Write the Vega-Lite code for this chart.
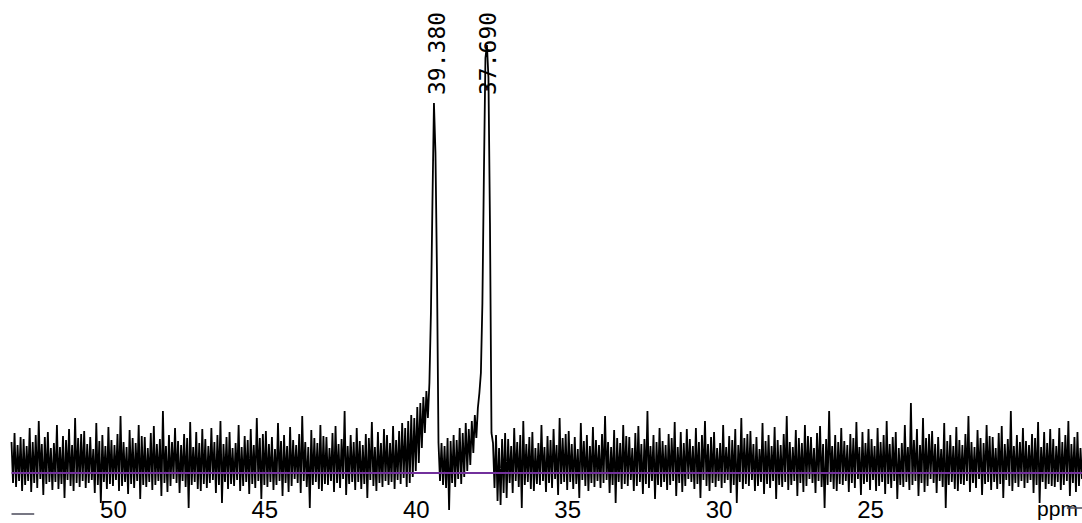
{
"$schema": "https://vega.github.io/schema/vega-lite/v6.json",
"width": 1082, "height": 523,
"autosize": {"type": "none"},
"padding": 0,
"background": "white",
"config": {"view": {"stroke": null}},
"layer": [
{"data": {"values": [
{"ppm":53.35,"v":31},{"ppm":53.30,"v":-10},{"ppm":53.25,"v":40},{"ppm":53.20,"v":-14},{"ppm":53.15,"v":28},{"ppm":53.10,"v":-8},{"ppm":53.05,"v":36},{"ppm":53.00,"v":-18},
{"ppm":52.95,"v":34},{"ppm":52.90,"v":-12},{"ppm":52.85,"v":27},{"ppm":52.80,"v":-8},{"ppm":52.75,"v":45},{"ppm":52.70,"v":-19},{"ppm":52.65,"v":31},{"ppm":52.60,"v":-10},{"ppm":52.55,"v":38},{"ppm":52.50,"v":-15},{"ppm":52.45,"v":52},{"ppm":52.40,"v":-6},{"ppm":52.35,"v":29},{"ppm":52.30,"v":-22},{"ppm":52.25,"v":36},{"ppm":52.20,"v":-11},{"ppm":52.15,"v":41},{"ppm":52.10,"v":-9},{"ppm":52.05,"v":25},{"ppm":52.00,"v":-17},
{"ppm":51.95,"v":30},{"ppm":51.90,"v":-9},{"ppm":51.85,"v":48},{"ppm":51.80,"v":-16},{"ppm":51.75,"v":26},{"ppm":51.70,"v":-11},{"ppm":51.65,"v":37},{"ppm":51.60,"v":-25},{"ppm":51.55,"v":33},{"ppm":51.50,"v":-7},{"ppm":51.45,"v":44},{"ppm":51.40,"v":-13},{"ppm":51.35,"v":28},{"ppm":51.30,"v":-18},{"ppm":51.25,"v":55},{"ppm":51.20,"v":-10},{"ppm":51.15,"v":35},{"ppm":51.10,"v":-14},{"ppm":51.05,"v":39},{"ppm":51.00,"v":-8},
{"ppm":50.95,"v":42},{"ppm":50.90,"v":-15},{"ppm":50.85,"v":29},{"ppm":50.80,"v":-10},{"ppm":50.75,"v":36},{"ppm":50.70,"v":-7},{"ppm":50.65,"v":24},{"ppm":50.60,"v":-20},{"ppm":50.55,"v":50},{"ppm":50.50,"v":-12},{"ppm":50.45,"v":32},{"ppm":50.40,"v":-30},{"ppm":50.35,"v":38},{"ppm":50.30,"v":-9},{"ppm":50.25,"v":27},{"ppm":50.20,"v":-16},{"ppm":50.15,"v":46},{"ppm":50.10,"v":-11},{"ppm":50.05,"v":33},{"ppm":50.00,"v":-13},
{"ppm":49.95,"v":28},{"ppm":49.90,"v":-7},{"ppm":49.85,"v":39},{"ppm":49.80,"v":-18},{"ppm":49.75,"v":57},{"ppm":49.70,"v":-13},{"ppm":49.65,"v":31},{"ppm":49.60,"v":-9},{"ppm":49.55,"v":26},{"ppm":49.50,"v":-21},{"ppm":49.45,"v":43},{"ppm":49.40,"v":-11},{"ppm":49.35,"v":35},{"ppm":49.30,"v":-15},{"ppm":49.25,"v":30},{"ppm":49.20,"v":-8},{"ppm":49.15,"v":48},{"ppm":49.10,"v":-26},{"ppm":49.05,"v":37},{"ppm":49.00,"v":-12},
{"ppm":48.95,"v":36},{"ppm":48.90,"v":-14},{"ppm":48.85,"v":25},{"ppm":48.80,"v":-9},{"ppm":48.75,"v":40},{"ppm":48.70,"v":-17},{"ppm":48.65,"v":47},{"ppm":48.60,"v":-12},{"ppm":48.55,"v":29},{"ppm":48.50,"v":-8},{"ppm":48.45,"v":34},{"ppm":48.40,"v":-23},{"ppm":48.35,"v":62},{"ppm":48.30,"v":-10},{"ppm":48.25,"v":27},{"ppm":48.20,"v":-19},{"ppm":48.15,"v":38},{"ppm":48.10,"v":-13},{"ppm":48.05,"v":31},{"ppm":48.00,"v":-6},
{"ppm":47.95,"v":45},{"ppm":47.90,"v":-10},{"ppm":47.85,"v":32},{"ppm":47.80,"v":-20},{"ppm":47.75,"v":28},{"ppm":47.70,"v":-8},{"ppm":47.65,"v":39},{"ppm":47.60,"v":-14},{"ppm":47.55,"v":35},{"ppm":47.50,"v":-35},{"ppm":47.45,"v":51},{"ppm":47.40,"v":-12},{"ppm":47.35,"v":26},{"ppm":47.30,"v":-9},{"ppm":47.25,"v":41},{"ppm":47.20,"v":-16},{"ppm":47.15,"v":30},{"ppm":47.10,"v":-18},{"ppm":47.05,"v":44},{"ppm":47.00,"v":-11},
{"ppm":46.95,"v":34},{"ppm":46.90,"v":-15},{"ppm":46.85,"v":27},{"ppm":46.80,"v":-10},{"ppm":46.75,"v":45},{"ppm":46.70,"v":-7},{"ppm":46.65,"v":31},{"ppm":46.60,"v":-20},{"ppm":46.55,"v":38},{"ppm":46.50,"v":-12},{"ppm":46.45,"v":52},{"ppm":46.40,"v":-30},{"ppm":46.35,"v":29},{"ppm":46.30,"v":-9},{"ppm":46.25,"v":36},{"ppm":46.20,"v":-16},{"ppm":46.15,"v":41},{"ppm":46.10,"v":-11},{"ppm":46.05,"v":25},{"ppm":46.00,"v":-13},
{"ppm":45.95,"v":30},{"ppm":45.90,"v":-7},{"ppm":45.85,"v":48},{"ppm":45.80,"v":-18},{"ppm":45.75,"v":26},{"ppm":45.70,"v":-13},{"ppm":45.65,"v":37},{"ppm":45.60,"v":-9},{"ppm":45.55,"v":33},{"ppm":45.50,"v":-21},{"ppm":45.45,"v":44},{"ppm":45.40,"v":-11},{"ppm":45.35,"v":28},{"ppm":45.30,"v":-15},{"ppm":45.25,"v":55},{"ppm":45.20,"v":-8},{"ppm":45.15,"v":35},{"ppm":45.10,"v":-26},{"ppm":45.05,"v":39},{"ppm":45.00,"v":-12},
{"ppm":44.95,"v":42},{"ppm":44.90,"v":-14},{"ppm":44.85,"v":29},{"ppm":44.80,"v":-9},{"ppm":44.75,"v":36},{"ppm":44.70,"v":-17},{"ppm":44.65,"v":24},{"ppm":44.60,"v":-12},{"ppm":44.55,"v":50},{"ppm":44.50,"v":-8},{"ppm":44.45,"v":32},{"ppm":44.40,"v":-23},{"ppm":44.35,"v":38},{"ppm":44.30,"v":-10},{"ppm":44.25,"v":27},{"ppm":44.20,"v":-19},{"ppm":44.15,"v":46},{"ppm":44.10,"v":-13},{"ppm":44.05,"v":33},{"ppm":44.00,"v":-6},
{"ppm":43.95,"v":28},{"ppm":43.90,"v":-10},{"ppm":43.85,"v":39},{"ppm":43.80,"v":-20},{"ppm":43.75,"v":57},{"ppm":43.70,"v":-8},{"ppm":43.65,"v":31},{"ppm":43.60,"v":-14},{"ppm":43.55,"v":26},{"ppm":43.50,"v":-35},{"ppm":43.45,"v":43},{"ppm":43.40,"v":-12},{"ppm":43.35,"v":35},{"ppm":43.30,"v":-9},{"ppm":43.25,"v":30},{"ppm":43.20,"v":-16},{"ppm":43.15,"v":48},{"ppm":43.10,"v":-18},{"ppm":43.05,"v":37},{"ppm":43.00,"v":-11},
{"ppm":42.95,"v":36},{"ppm":42.90,"v":-12},{"ppm":42.85,"v":25},{"ppm":42.80,"v":-8},{"ppm":42.75,"v":40},{"ppm":42.70,"v":-19},{"ppm":42.65,"v":47},{"ppm":42.60,"v":-10},{"ppm":42.55,"v":29},{"ppm":42.50,"v":-15},{"ppm":42.45,"v":34},{"ppm":42.40,"v":-6},{"ppm":42.35,"v":62},{"ppm":42.30,"v":-22},{"ppm":42.25,"v":27},{"ppm":42.20,"v":-11},{"ppm":42.15,"v":38},{"ppm":42.10,"v":-9},{"ppm":42.05,"v":31},{"ppm":42.00,"v":-17},
{"ppm":41.95,"v":45},{"ppm":41.90,"v":-9},{"ppm":41.85,"v":32},{"ppm":41.80,"v":-16},{"ppm":41.75,"v":28},{"ppm":41.70,"v":-11},{"ppm":41.65,"v":39},{"ppm":41.60,"v":-25},{"ppm":41.55,"v":35},{"ppm":41.50,"v":-7},{"ppm":41.45,"v":51},{"ppm":41.40,"v":-13},{"ppm":41.35,"v":26},{"ppm":41.30,"v":-18},{"ppm":41.25,"v":41},{"ppm":41.20,"v":-10},{"ppm":41.15,"v":30},{"ppm":41.10,"v":-14},{"ppm":41.05,"v":44},{"ppm":41.00,"v":-8},
{"ppm":40.95,"v":38},{"ppm":40.90,"v":-12},{"ppm":40.85,"v":30},{"ppm":40.80,"v":-9},{"ppm":40.75,"v":47},{"ppm":40.70,"v":-16},{"ppm":40.65,"v":33},{"ppm":40.60,"v":-7},{"ppm":40.55,"v":42},{"ppm":40.50,"v":-11},{"ppm":40.45,"v":50},{"ppm":40.40,"v":-5},
{"ppm":40.35,"v":45},{"ppm":40.30,"v":-14},{"ppm":40.25,"v":52},{"ppm":40.20,"v":-10},{"ppm":40.15,"v":58},{"ppm":40.10,"v":-4},{"ppm":40.05,"v":55},{"ppm":40.00,"v":2},{"ppm":39.95,"v":66},{"ppm":39.90,"v":10},{"ppm":39.85,"v":70},{"ppm":39.80,"v":25},{"ppm":39.75,"v":76},{"ppm":39.70,"v":40},{"ppm":39.65,"v":82},{"ppm":39.60,"v":55},
{"ppm":39.55,"v":90},{"ppm":39.50,"v":160},{"ppm":39.45,"v":270},{"ppm":39.40,"v":370},{"ppm":39.35,"v":320},{"ppm":39.30,"v":200},{"ppm":39.25,"v":30},
{"ppm":39.20,"v":-8},{"ppm":39.15,"v":30},{"ppm":39.10,"v":-12},{"ppm":39.05,"v":27},{"ppm":39.00,"v":-15},{"ppm":38.95,"v":35},{"ppm":38.90,"v":-37},{"ppm":38.85,"v":32},{"ppm":38.80,"v":-10},{"ppm":38.75,"v":38},{"ppm":38.70,"v":-14},{"ppm":38.65,"v":33},{"ppm":38.60,"v":-6},{"ppm":38.55,"v":45},{"ppm":38.50,"v":-11},{"ppm":38.45,"v":40},{"ppm":38.40,"v":-4},{"ppm":38.35,"v":50},{"ppm":38.30,"v":2},{"ppm":38.25,"v":44},{"ppm":38.20,"v":8},{"ppm":38.15,"v":52},{"ppm":38.10,"v":20},{"ppm":38.05,"v":58},{"ppm":38.00,"v":35},{"ppm":37.95,"v":65},
{"ppm":37.90,"v":80},{"ppm":37.85,"v":100},{"ppm":37.80,"v":170},{"ppm":37.75,"v":300},{"ppm":37.70,"v":415},{"ppm":37.65,"v":428},{"ppm":37.60,"v":395},{"ppm":37.55,"v":250},{"ppm":37.50,"v":40},
{"ppm":37.45,"v":30},{"ppm":37.40,"v":-15},{"ppm":37.35,"v":38},{"ppm":37.30,"v":-28},{"ppm":37.25,"v":25},{"ppm":37.20,"v":-32},{"ppm":37.15,"v":34},{"ppm":37.10,"v":-20},{"ppm":37.05,"v":40},{"ppm":37.00,"v":-25},
{"ppm":36.95,"v":34},{"ppm":36.90,"v":-10},{"ppm":36.85,"v":27},{"ppm":36.80,"v":-20},{"ppm":36.75,"v":45},{"ppm":36.70,"v":-8},{"ppm":36.65,"v":31},{"ppm":36.60,"v":-14},{"ppm":36.55,"v":38},{"ppm":36.50,"v":-35},{"ppm":36.45,"v":52},{"ppm":36.40,"v":-12},{"ppm":36.35,"v":29},{"ppm":36.30,"v":-9},{"ppm":36.25,"v":36},{"ppm":36.20,"v":-16},{"ppm":36.15,"v":41},{"ppm":36.10,"v":-18},{"ppm":36.05,"v":25},{"ppm":36.00,"v":-11},
{"ppm":35.95,"v":30},{"ppm":35.90,"v":-12},{"ppm":35.85,"v":48},{"ppm":35.80,"v":-8},{"ppm":35.75,"v":26},{"ppm":35.70,"v":-19},{"ppm":35.65,"v":37},{"ppm":35.60,"v":-10},{"ppm":35.55,"v":33},{"ppm":35.50,"v":-15},{"ppm":35.45,"v":44},{"ppm":35.40,"v":-6},{"ppm":35.35,"v":28},{"ppm":35.30,"v":-22},{"ppm":35.25,"v":55},{"ppm":35.20,"v":-11},{"ppm":35.15,"v":35},{"ppm":35.10,"v":-9},{"ppm":35.05,"v":39},{"ppm":35.00,"v":-17},
{"ppm":34.95,"v":42},{"ppm":34.90,"v":-9},{"ppm":34.85,"v":29},{"ppm":34.80,"v":-16},{"ppm":34.75,"v":36},{"ppm":34.70,"v":-11},{"ppm":34.65,"v":24},{"ppm":34.60,"v":-25},{"ppm":34.55,"v":50},{"ppm":34.50,"v":-7},{"ppm":34.45,"v":32},{"ppm":34.40,"v":-13},{"ppm":34.35,"v":38},{"ppm":34.30,"v":-18},{"ppm":34.25,"v":27},{"ppm":34.20,"v":-10},{"ppm":34.15,"v":46},{"ppm":34.10,"v":-14},{"ppm":34.05,"v":33},{"ppm":34.00,"v":-8},
{"ppm":33.95,"v":28},{"ppm":33.90,"v":-15},{"ppm":33.85,"v":39},{"ppm":33.80,"v":-10},{"ppm":33.75,"v":57},{"ppm":33.70,"v":-7},{"ppm":33.65,"v":31},{"ppm":33.60,"v":-20},{"ppm":33.55,"v":26},{"ppm":33.50,"v":-12},{"ppm":33.45,"v":43},{"ppm":33.40,"v":-30},{"ppm":33.35,"v":35},{"ppm":33.30,"v":-9},{"ppm":33.25,"v":30},{"ppm":33.20,"v":-16},{"ppm":33.15,"v":48},{"ppm":33.10,"v":-11},{"ppm":33.05,"v":37},{"ppm":33.00,"v":-13},
{"ppm":32.95,"v":36},{"ppm":32.90,"v":-7},{"ppm":32.85,"v":25},{"ppm":32.80,"v":-18},{"ppm":32.75,"v":40},{"ppm":32.70,"v":-13},{"ppm":32.65,"v":47},{"ppm":32.60,"v":-9},{"ppm":32.55,"v":29},{"ppm":32.50,"v":-21},{"ppm":32.45,"v":34},{"ppm":32.40,"v":-11},{"ppm":32.35,"v":62},{"ppm":32.30,"v":-15},{"ppm":32.25,"v":27},{"ppm":32.20,"v":-8},{"ppm":32.15,"v":38},{"ppm":32.10,"v":-26},{"ppm":32.05,"v":31},{"ppm":32.00,"v":-12},
{"ppm":31.95,"v":45},{"ppm":31.90,"v":-14},{"ppm":31.85,"v":32},{"ppm":31.80,"v":-9},{"ppm":31.75,"v":28},{"ppm":31.70,"v":-17},{"ppm":31.65,"v":39},{"ppm":31.60,"v":-12},{"ppm":31.55,"v":35},{"ppm":31.50,"v":-8},{"ppm":31.45,"v":51},{"ppm":31.40,"v":-23},{"ppm":31.35,"v":26},{"ppm":31.30,"v":-10},{"ppm":31.25,"v":41},{"ppm":31.20,"v":-19},{"ppm":31.15,"v":30},{"ppm":31.10,"v":-13},{"ppm":31.05,"v":44},{"ppm":31.00,"v":-6},
{"ppm":30.95,"v":34},{"ppm":30.90,"v":-9},{"ppm":30.85,"v":27},{"ppm":30.80,"v":-16},{"ppm":30.75,"v":45},{"ppm":30.70,"v":-11},{"ppm":30.65,"v":31},{"ppm":30.60,"v":-25},{"ppm":30.55,"v":38},{"ppm":30.50,"v":-7},{"ppm":30.45,"v":52},{"ppm":30.40,"v":-13},{"ppm":30.35,"v":29},{"ppm":30.30,"v":-18},{"ppm":30.25,"v":36},{"ppm":30.20,"v":-10},{"ppm":30.15,"v":41},{"ppm":30.10,"v":-14},{"ppm":30.05,"v":25},{"ppm":30.00,"v":-8},
{"ppm":29.95,"v":30},{"ppm":29.90,"v":-15},{"ppm":29.85,"v":48},{"ppm":29.80,"v":-10},{"ppm":29.75,"v":26},{"ppm":29.70,"v":-7},{"ppm":29.65,"v":37},{"ppm":29.60,"v":-20},{"ppm":29.55,"v":33},{"ppm":29.50,"v":-12},{"ppm":29.45,"v":44},{"ppm":29.40,"v":-30},{"ppm":29.35,"v":28},{"ppm":29.30,"v":-9},{"ppm":29.25,"v":55},{"ppm":29.20,"v":-16},{"ppm":29.15,"v":35},{"ppm":29.10,"v":-11},{"ppm":29.05,"v":39},{"ppm":29.00,"v":-13},
{"ppm":28.95,"v":42},{"ppm":28.90,"v":-7},{"ppm":28.85,"v":29},{"ppm":28.80,"v":-18},{"ppm":28.75,"v":36},{"ppm":28.70,"v":-13},{"ppm":28.65,"v":24},{"ppm":28.60,"v":-9},{"ppm":28.55,"v":50},{"ppm":28.50,"v":-21},{"ppm":28.45,"v":32},{"ppm":28.40,"v":-11},{"ppm":28.35,"v":38},{"ppm":28.30,"v":-15},{"ppm":28.25,"v":27},{"ppm":28.20,"v":-8},{"ppm":28.15,"v":46},{"ppm":28.10,"v":-26},{"ppm":28.05,"v":33},{"ppm":28.00,"v":-12},
{"ppm":27.95,"v":28},{"ppm":27.90,"v":-14},{"ppm":27.85,"v":39},{"ppm":27.80,"v":-9},{"ppm":27.75,"v":57},{"ppm":27.70,"v":-17},{"ppm":27.65,"v":31},{"ppm":27.60,"v":-12},{"ppm":27.55,"v":26},{"ppm":27.50,"v":-8},{"ppm":27.45,"v":43},{"ppm":27.40,"v":-23},{"ppm":27.35,"v":35},{"ppm":27.30,"v":-10},{"ppm":27.25,"v":30},{"ppm":27.20,"v":-19},{"ppm":27.15,"v":48},{"ppm":27.10,"v":-13},{"ppm":27.05,"v":37},{"ppm":27.00,"v":-6},
{"ppm":26.95,"v":36},{"ppm":26.90,"v":-10},{"ppm":26.85,"v":25},{"ppm":26.80,"v":-20},{"ppm":26.75,"v":40},{"ppm":26.70,"v":-8},{"ppm":26.65,"v":47},{"ppm":26.60,"v":-14},{"ppm":26.55,"v":29},{"ppm":26.50,"v":-35},{"ppm":26.45,"v":34},{"ppm":26.40,"v":-12},{"ppm":26.35,"v":62},{"ppm":26.30,"v":-9},{"ppm":26.25,"v":27},{"ppm":26.20,"v":-16},{"ppm":26.15,"v":38},{"ppm":26.10,"v":-18},{"ppm":26.05,"v":31},{"ppm":26.00,"v":-11},
{"ppm":25.95,"v":45},{"ppm":25.90,"v":-12},{"ppm":25.85,"v":32},{"ppm":25.80,"v":-8},{"ppm":25.75,"v":28},{"ppm":25.70,"v":-19},{"ppm":25.65,"v":39},{"ppm":25.60,"v":-10},{"ppm":25.55,"v":35},{"ppm":25.50,"v":-15},{"ppm":25.45,"v":51},{"ppm":25.40,"v":-6},{"ppm":25.35,"v":26},{"ppm":25.30,"v":-22},{"ppm":25.25,"v":41},{"ppm":25.20,"v":-11},{"ppm":25.15,"v":30},{"ppm":25.10,"v":-9},{"ppm":25.05,"v":44},{"ppm":25.00,"v":-17},
{"ppm":24.95,"v":34},{"ppm":24.90,"v":-7},{"ppm":24.85,"v":27},{"ppm":24.80,"v":-18},{"ppm":24.75,"v":45},{"ppm":24.70,"v":-13},{"ppm":24.65,"v":31},{"ppm":24.60,"v":-9},{"ppm":24.55,"v":38},{"ppm":24.50,"v":-21},{"ppm":24.45,"v":52},{"ppm":24.40,"v":-11},{"ppm":24.35,"v":29},{"ppm":24.30,"v":-15},{"ppm":24.25,"v":36},{"ppm":24.20,"v":-8},{"ppm":24.15,"v":41},{"ppm":24.10,"v":-26},{"ppm":24.05,"v":25},{"ppm":24.00,"v":-12},
{"ppm":23.95,"v":30},{"ppm":23.90,"v":-14},{"ppm":23.85,"v":48},{"ppm":23.80,"v":-9},{"ppm":23.75,"v":26},{"ppm":23.70,"v":-17},{"ppm":23.65,"v":70},{"ppm":23.60,"v":-12},{"ppm":23.55,"v":33},{"ppm":23.50,"v":-8},{"ppm":23.45,"v":44},{"ppm":23.40,"v":-23},{"ppm":23.35,"v":28},{"ppm":23.30,"v":-10},{"ppm":23.25,"v":55},{"ppm":23.20,"v":-19},{"ppm":23.15,"v":35},{"ppm":23.10,"v":-13},{"ppm":23.05,"v":39},{"ppm":23.00,"v":-6},
{"ppm":22.95,"v":42},{"ppm":22.90,"v":-10},{"ppm":22.85,"v":29},{"ppm":22.80,"v":-20},{"ppm":22.75,"v":36},{"ppm":22.70,"v":-8},{"ppm":22.65,"v":24},{"ppm":22.60,"v":-14},{"ppm":22.55,"v":50},{"ppm":22.50,"v":-35},{"ppm":22.45,"v":32},{"ppm":22.40,"v":-12},{"ppm":22.35,"v":38},{"ppm":22.30,"v":-9},{"ppm":22.25,"v":27},{"ppm":22.20,"v":-16},{"ppm":22.15,"v":46},{"ppm":22.10,"v":-18},{"ppm":22.05,"v":33},{"ppm":22.00,"v":-11},
{"ppm":21.95,"v":28},{"ppm":21.90,"v":-12},{"ppm":21.85,"v":39},{"ppm":21.80,"v":-8},{"ppm":21.75,"v":57},{"ppm":21.70,"v":-19},{"ppm":21.65,"v":31},{"ppm":21.60,"v":-10},{"ppm":21.55,"v":26},{"ppm":21.50,"v":-15},{"ppm":21.45,"v":43},{"ppm":21.40,"v":-6},{"ppm":21.35,"v":35},{"ppm":21.30,"v":-22},{"ppm":21.25,"v":30},{"ppm":21.20,"v":-11},{"ppm":21.15,"v":48},{"ppm":21.10,"v":-9},{"ppm":21.05,"v":37},{"ppm":21.00,"v":-17},
{"ppm":20.95,"v":36},{"ppm":20.90,"v":-9},{"ppm":20.85,"v":25},{"ppm":20.80,"v":-16},{"ppm":20.75,"v":40},{"ppm":20.70,"v":-11},{"ppm":20.65,"v":47},{"ppm":20.60,"v":-25},{"ppm":20.55,"v":29},{"ppm":20.50,"v":-7},{"ppm":20.45,"v":34},{"ppm":20.40,"v":-13},{"ppm":20.35,"v":62},{"ppm":20.30,"v":-18},{"ppm":20.25,"v":27},{"ppm":20.20,"v":-10},{"ppm":20.15,"v":38},{"ppm":20.10,"v":-14},{"ppm":20.05,"v":31},{"ppm":20.00,"v":-8},
{"ppm":19.95,"v":45},{"ppm":19.90,"v":-15},{"ppm":19.85,"v":32},{"ppm":19.80,"v":-10},{"ppm":19.75,"v":28},{"ppm":19.70,"v":-7},{"ppm":19.65,"v":39},{"ppm":19.60,"v":-20},{"ppm":19.55,"v":35},{"ppm":19.50,"v":-12},{"ppm":19.45,"v":51},{"ppm":19.40,"v":-30},{"ppm":19.35,"v":26},{"ppm":19.30,"v":-9},{"ppm":19.25,"v":41},{"ppm":19.20,"v":-16},{"ppm":19.15,"v":30},{"ppm":19.10,"v":-11},{"ppm":19.05,"v":44},{"ppm":19.00,"v":-13},
{"ppm":18.95,"v":34},{"ppm":18.90,"v":-14},{"ppm":18.85,"v":27},{"ppm":18.80,"v":-9},{"ppm":18.75,"v":45},{"ppm":18.70,"v":-17},{"ppm":18.65,"v":31},{"ppm":18.60,"v":-12},{"ppm":18.55,"v":38},{"ppm":18.50,"v":-8},{"ppm":18.45,"v":52},{"ppm":18.40,"v":-23},{"ppm":18.35,"v":29},{"ppm":18.30,"v":-10},{"ppm":18.25,"v":36},{"ppm":18.20,"v":-19},{"ppm":18.15,"v":41},{"ppm":18.10,"v":-13},{"ppm":18.05,"v":25},{"ppm":18.00,"v":-6}
]},
 "mark": {"type": "line", "color": "black", "strokeWidth": 1.8, "clip": true},
 "encoding": {
  "x": {"field": "ppm", "type": "quantitative",
   "scale": {"domain": [18.0, 53.73], "reverse": true, "nice": false, "zero": false},
   "axis": {"values": [50, 45, 40, 35, 30, 25], "domain": false, "ticks": false, "tickSize": 0, "grid": false,
    "labelFont": "Liberation Sans", "labelFontSize": 24, "labelColor": "black", "labelPadding": 3, "labelFlush": false, "labelOverlap": false,
    "offset": -28, "title": "ppm", "titleFont": "Liberation Sans", "titleFontSize": 21, "titleFontWeight": "normal", "titleColor": "black",
    "titleX": 1057, "titleY": 20, "titleAlign": "center", "titleBaseline": "alphabetic"}},
  "y": {"field": "v", "type": "quantitative", "scale": {"domain": [-50, 473], "nice": false, "zero": false}, "axis": null}
 }
},
{"data": {"values": [{"ppm": 53.35, "ppm2": 18.0, "v": 0}]},
 "mark": {"type": "rule", "color": "#72309c", "strokeWidth": 2},
 "encoding": {"x": {"field": "ppm", "type": "quantitative"}, "x2": {"field": "ppm2"}, "y": {"field": "v", "type": "quantitative"}}
},
{"data": {"values": [{"ppm": 53.35, "ppm2": 52.6, "v": -41}, {"ppm": 18.5, "ppm2": 18.0, "v": -35}]},
 "mark": {"type": "rule", "color": "#4a4a5a", "strokeWidth": 1.5},
 "encoding": {"x": {"field": "ppm", "type": "quantitative"}, "x2": {"field": "ppm2"}, "y": {"field": "v", "type": "quantitative"}}
},
{"data": {"values": [{"ppm": 39.38, "label": "39.380"}, {"ppm": 37.69, "label": "37.690"}]},
 "mark": {"type": "text", "angle": 270, "align": "left", "baseline": "middle", "dy": 3, "font": "DejaVu Sans Mono", "fontSize": 23, "fill": "black"},
 "encoding": {"x": {"field": "ppm", "type": "quantitative"}, "y": {"datum": 378, "type": "quantitative"}, "text": {"field": "label", "type": "nominal"}}
}
]
}
